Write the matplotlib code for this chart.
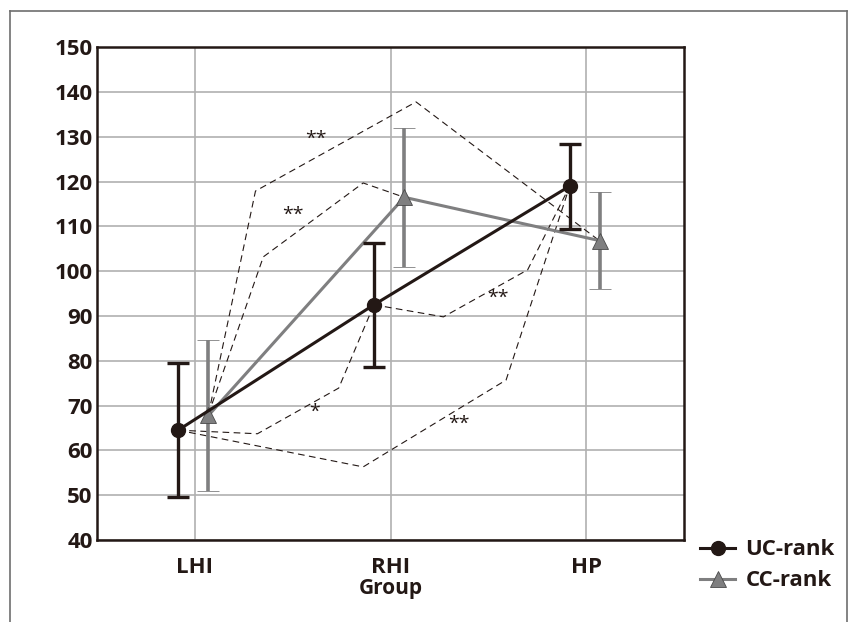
import matplotlib.pyplot as plt
from matplotlib.lines import Line2D

# Data
groups = ['LHI', 'RHI', 'HP']
uc_mean = [64.5, 92.5, 119.0]
uc_err = [15.0, 13.8, 9.5]
cc_mean = [67.8, 116.5, 106.8]
cc_err = [16.8, 15.5, 10.8]

# significance brackets (dashed), given in data coords: x position, value
sig_paths = [
    ([0.07, 0.31, 1.13, 2.07], [68.1, 117.9, 137.8, 106.7]),
    ([0.07, 0.35, 0.86, 1.07], [68.1, 103.2, 119.7, 116.5]),
    ([-0.085, 0.32, 0.735, 0.915], [64.5, 63.7, 73.9, 92.5]),
    ([-0.085, 0.86, 1.59, 1.915], [64.5, 56.3, 75.7, 119.0]),
    ([0.915, 1.27, 1.70, 1.915], [92.5, 89.8, 100.3, 119.0]),
]
sig_labels = ['**', '**', '*', '**', '**']
sig_label_pos = [(0.62, 129.5), (0.50, 112.5), (0.61, 68.5), (1.35, 66.0), (1.55, 94.0)]

plt.rcParams['font.family'] = ['Open Sans', 'DejaVu Sans']

fig = plt.figure(figsize=(8.5, 6.22), dpi=100)
ax = fig.add_axes([0.114, 0.132, 0.691, 0.792])

dark = '#231815'
gray = '#7f7f80'
x = list(range(len(groups)))
uc_x = [i - 0.085 for i in x]
cc_x = [i + 0.07 for i in x]

for (px, py) in sig_paths:
    ax.plot(px, py, color=dark, lw=0.8, ls=(0, (6, 4)), zorder=2)
for lab, (lx, ly) in zip(sig_labels, sig_label_pos):
    ax.text(lx, ly, lab, ha='center', va='center', fontsize=14, color=dark, zorder=3)

ax.errorbar(uc_x, uc_mean, yerr=uc_err, color=dark, lw=2.2, elinewidth=2.4,
            capsize=8, capthick=2.4, marker='o', markersize=10, zorder=5,
            label='UC-rank')
ax.errorbar(cc_x, cc_mean, yerr=cc_err, color=gray, lw=2.2, elinewidth=2.6,
            capsize=8, capthick=2.6, marker='^', markersize=12,
            markerfacecolor=gray, markeredgecolor='#4a4a4a', markeredgewidth=0.6,
            zorder=4, label='CC-rank')

ax.set_xlim(-0.5, 2.5)
ax.set_ylim(40, 150)
ax.set_yticks(range(40, 151, 10))
ax.set_xticks(x)
ax.set_xticklabels(groups)
ax.tick_params(length=0, labelsize=16, pad=3)
ax.tick_params(axis='x', pad=12)
for t in ax.get_xticklabels() + ax.get_yticklabels():
    t.set_fontweight('bold')
    t.set_color(dark)
ax.set_xlabel('Group', fontsize=15, fontweight='bold', color=dark, labelpad=0)
ax.grid(True, color='#b0b0b0', lw=1.2)
ax.set_axisbelow(True)
for s in ax.spines.values():
    s.set_color(dark)
    s.set_linewidth(1.8)

leg = fig.legend(handles=[
    Line2D([], [], color=dark, lw=2.2, marker='o', markersize=10),
    Line2D([], [], color=gray, lw=2.2, marker='^', markersize=11,
           markerfacecolor=gray, markeredgecolor='#4a4a4a', markeredgewidth=0.6)],
    labels=['UC-rank', 'CC-rank'], loc='upper left',
    bbox_to_anchor=(0.818, 0.140), frameon=False, handlelength=1.6,
    handletextpad=0.45, labelspacing=0.45, borderpad=0.2, borderaxespad=0,
    prop={'size': 16, 'weight': 'bold'})
for t in leg.get_texts():
    t.set_color(dark)

# outer frame
frame_col = '#6e6e6e'
fig.add_artist(Line2D([10 / 850, 10 / 850], [0, 1 - 11 / 622], color=frame_col, lw=1.2))
fig.add_artist(Line2D([10 / 850, 847 / 850], [1 - 11 / 622, 1 - 11 / 622], color=frame_col, lw=1.2))
fig.add_artist(Line2D([847 / 850, 847 / 850], [0, 1 - 11 / 622], color=frame_col, lw=1.2))

fig.savefig('out.png', dpi=100)
